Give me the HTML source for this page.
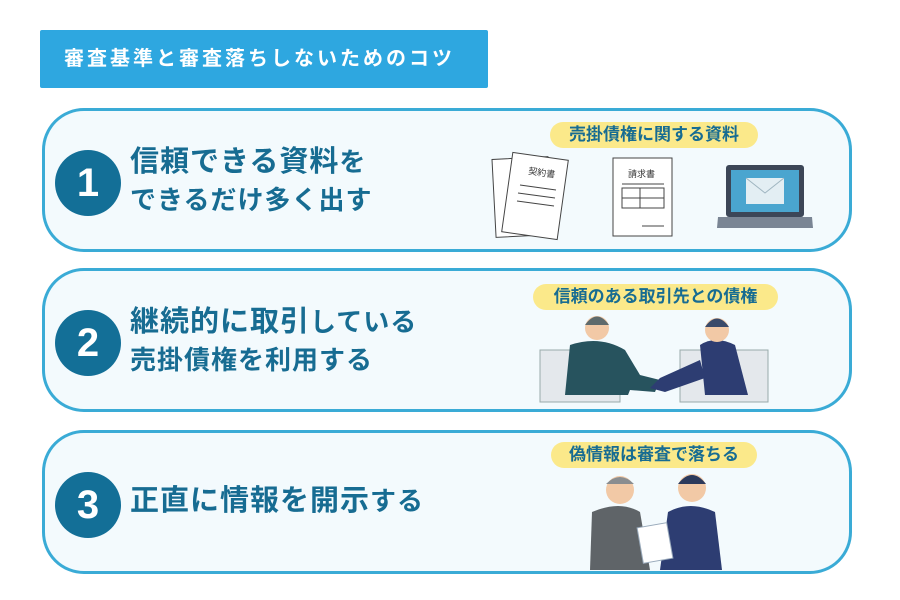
<!DOCTYPE html><html><head><meta charset="utf-8"><style>
body{margin:0;width:900px;height:600px;background:#fff;position:relative;overflow:hidden;font-family:"Liberation Sans","Noto Sans CJK JP",sans-serif}
.t{position:absolute;left:40px;top:30px;width:448px;height:58px;background:#2ea7e0;color:#fff;font-size:20px;font-weight:bold;line-height:58px;text-indent:24px;border-radius:2px;letter-spacing:3px}
.c{position:absolute;left:42px;width:804px;height:138px;border:3px solid #3aabd6;border-radius:42px;background:#f3fafd}
.n{position:absolute;left:55px;width:66px;height:66px;border-radius:50%;background:#136f97;color:#fff;font-size:40px;font-weight:bold;text-align:center;line-height:66px}
.tx{position:absolute;left:130px;color:#176c92;font-weight:bold;font-size:29px;line-height:38px;letter-spacing:1px}
.tx small{font-size:26px}
.p{position:absolute;height:26px;background:#fbe98a;border-radius:13px;color:#176c92;font-weight:bold;font-size:17px;line-height:26px;text-align:center}
</style></head><body>
<div class="t">審査基準と審査落ちしないためのコツ</div>
<div class="c" style="top:108px"></div>
<div class="c" style="top:268px"></div>
<div class="c" style="top:430px"></div>
<div class="n" style="top:150px">1</div>
<div class="n" style="top:310px">2</div>
<div class="n" style="top:472px">3</div>
<div class="tx" style="top:143px">信頼できる資料<small>を</small><br><small>できるだけ多く出す</small></div>
<div class="tx" style="top:303px">継続的に取引<small>している</small><br><small>売掛債権を利用する</small></div>
<div class="tx" style="top:482px">正直に情報を開示<small>する</small></div>
<div class="p" style="left:550px;top:122px;width:208px">売掛債権に関する資料</div>
<div class="p" style="left:533px;top:284px;width:245px">信頼のある取引先との債権</div>
<div class="p" style="left:551px;top:442px;width:206px">偽情報は審査で落ちる</div>
<svg width="900" height="600" style="position:absolute;left:0;top:0">
<g stroke="#444" fill="#fff" stroke-width="1">
<rect x="494" y="158" width="56" height="78" transform="rotate(-3 522 197)"/>
<rect x="507" y="156" width="56" height="80" transform="rotate(8 535 196)"/>
<rect x="613" y="158" width="59" height="78"/>
<rect x="622" y="188" width="42" height="20"/>
</g>
<text x="525" y="175" font-size="9" fill="#333" transform="rotate(8 535 196)">契約書</text>
<text x="628" y="177" font-size="9" fill="#333">請求書</text>
<g stroke="#444"><line x1="520" y1="185" x2="556" y2="190"/><line x1="518" y1="193" x2="555" y2="198"/><line x1="517" y1="201" x2="554" y2="206"/><line x1="622" y1="184" x2="664" y2="184"/><line x1="622" y1="198" x2="664" y2="198"/><line x1="640" y1="188" x2="640" y2="208"/><line x1="642" y1="226" x2="664" y2="226"/></g>
<rect x="726" y="165" width="78" height="52" rx="3" fill="#3c4657"/>
<rect x="731" y="170" width="68" height="42" fill="#4aa5cf"/>
<rect x="746" y="178" width="38" height="26" fill="#e3eef3"/>
<path d="M746 178 L765 193 L784 178" stroke="#9fb5c0" fill="none"/>
<path d="M718 217 H812 L813 228 H717 Z" fill="#7a8594"/>
<rect x="540" y="350" width="80" height="52" fill="#e4e8ec" stroke="#9aa" />
<rect x="680" y="350" width="88" height="52" fill="#e4e8ec" stroke="#9aa"/>
<path d="M565 395 L570 345 Q600 335 625 350 L640 375 L660 380 L655 392 L630 390 L628 395 Z" fill="#27535e"/>
<circle cx="597" cy="328" r="12" fill="#f2c9a6"/><path d="M585 325 Q597 308 609 325" fill="#5e6a6c"/>
<path d="M705 395 L700 345 Q715 335 735 345 L748 395 Z" fill="#2d3d72"/>
<path d="M700 360 L660 378 L650 388 L665 392 L705 378 Z" fill="#2d3d72"/>
<circle cx="717" cy="330" r="12" fill="#f2c9a6"/><path d="M705 327 Q717 310 729 327" fill="#3a4a6a"/>
<path d="M590 570 L592 512 Q620 500 640 512 L650 570 Z" fill="#5f6468"/>
<circle cx="620" cy="490" r="14" fill="#f2c9a6"/><path d="M606 484 Q620 470 634 484" fill="#8a8d90"/>
<path d="M660 570 L668 512 Q690 500 715 512 L722 570 Z" fill="#2d3d72"/>
<circle cx="692" cy="488" r="14" fill="#f2c9a6"/><path d="M678 484 Q692 466 706 484" fill="#2c3a5c"/>
<rect x="640" y="525" width="30" height="36" fill="#fff" stroke="#9ab" transform="rotate(-10 655 543)"/>
</svg>
</body></html>
